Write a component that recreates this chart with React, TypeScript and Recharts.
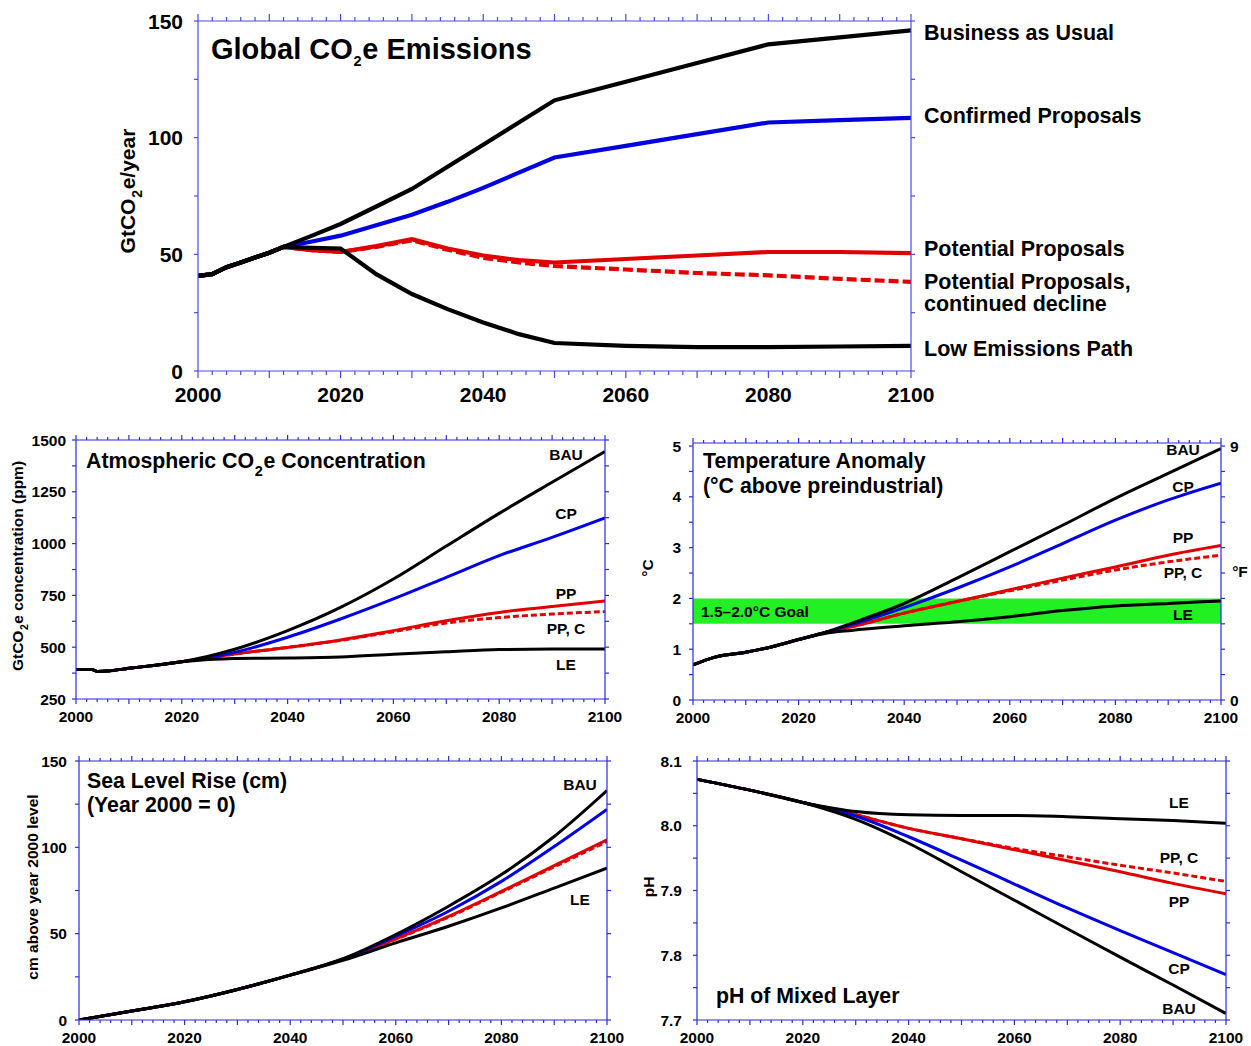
import React from 'react'
import { LineChart, Line, XAxis, YAxis, ReferenceArea } from 'recharts'

const FONT = '"Liberation Sans", Arial, Helvetica, sans-serif'
const AXIS_TOP = '#4a4ae4'
const AXIS = '#2b2be0'
const BLACK = '#000000'
const BLUE = '#0000e0'
const RED = '#e00000'
const GREEN = '#22f022'

const yearLabels = [2000, 2020, 2040, 2060, 2080, 2100]
const yearTicks = Array.from({ length: 51 }, (_, i) => 2000 + i * 2)

// — Global CO2e emissions (GtCO2e/yr)
const emisYears = [2000, 2002, 2004, 2006, 2008, 2010, 2012, 2016, 2020, 2025, 2030, 2035, 2040, 2045, 2050, 2060, 2070, 2080, 2090, 2100]
const emisBAU = [40.8, 41.5, 44.5, 46.5, 48.6, 50.7, 53.2, 58, 63, 70.5, 78, 87.5, 97, 106.5, 116, 124, 132, 140, 143, 146]
const emisCP = [40.8, 41.5, 44.5, 46.5, 48.6, 50.7, 53.2, 55.5, 58, 62.5, 67, 72.5, 78.5, 85, 91.5, 96.5, 101.5, 106.5, 107.5, 108.5]
const emisPP = [40.8, 41.5, 44.5, 46.5, 48.6, 50.7, 53.2, 51.8, 51, 53.5, 56.5, 52.5, 49.5, 47.5, 46.5, 48, 49.5, 51, 51, 50.5]
const emisPPC = [40.8, 41.5, 44.5, 46.5, 48.6, 50.7, 53.2, 51.8, 51, 53.2, 56, 52, 48.5, 46.5, 45, 43.5, 42, 41, 39.5, 38.2]
const emisLE = [40.8, 41.5, 44.5, 46.5, 48.6, 50.7, 53.2, 52.8, 52.5, 41.5, 33, 26.5, 20.8, 15.8, 12, 10.8, 10.2, 10.2, 10.5, 10.8]
const emisTicks = [0, 25, 50, 75, 100, 125, 150]
const emisLabels = [0, 50, 100, 150]

// — Atmospheric CO2e concentration (ppm)
const concYears = [2000, 2003, 2004, 2006, 2010, 2015, 2020, 2030, 2040, 2050, 2060, 2070, 2080, 2090, 2100]
const concBAU = [392, 392, 383, 385, 398, 413, 430, 490, 580, 692, 829, 988, 1146, 1296, 1444]
const concCP = [392, 392, 383, 385, 398, 413, 430, 475, 548, 636, 733, 837, 942, 1030, 1124]
const concPP = [392, 392, 383, 385, 398, 413, 430, 467, 499, 535, 580, 628, 668, 696, 723]
const concPPC = [392, 392, 383, 385, 398, 413, 430, 467, 499, 533, 575, 617, 643, 660, 672]
const concLE = [392, 392, 383, 385, 398, 413, 430, 446, 448, 453, 466, 478, 489, 491, 491]
const concTicks = [250, 375, 500, 625, 750, 875, 1000, 1125, 1250, 1375, 1500]
const concLabels = [250, 500, 750, 1000, 1250, 1500]

// — Temperature anomaly (°C above preindustrial)
const tempYears = [2000, 2004, 2010, 2015, 2020, 2025, 2030, 2040, 2050, 2060, 2070, 2080, 2090, 2100]
const tempBAU = [0.69, 0.84, 0.94, 1.05, 1.19, 1.33, 1.51, 1.9, 2.4, 2.92, 3.44, 3.97, 4.46, 4.95]
const tempCP = [0.69, 0.84, 0.94, 1.05, 1.19, 1.33, 1.48, 1.82, 2.2, 2.62, 3.08, 3.54, 3.94, 4.27]
const tempPP = [0.69, 0.84, 0.94, 1.05, 1.19, 1.33, 1.44, 1.71, 1.94, 2.17, 2.4, 2.62, 2.85, 3.04]
const tempPPC = [0.69, 0.84, 0.94, 1.05, 1.19, 1.33, 1.44, 1.71, 1.94, 2.15, 2.36, 2.56, 2.72, 2.85]
const tempLE = [0.69, 0.84, 0.94, 1.05, 1.19, 1.31, 1.37, 1.46, 1.54, 1.64, 1.76, 1.85, 1.9, 1.95]
const tempTicks = [0, 0.5, 1, 1.5, 2, 2.5, 3, 3.5, 4, 4.5, 5]
const tempLabels = [0, 1, 2, 3, 4, 5]
const fahrTicks = [0, 0.9, 1.8, 2.7, 3.6, 4.5, 5.4, 6.3, 7.2, 8.1, 9]
const fahrLabels = [0, 9]
const goalBand: [number, number] = [1.5, 2.0]

// — Sea level rise (cm, year 2000 = 0)
const seaYears = [2000, 2010, 2020, 2030, 2040, 2050, 2060, 2070, 2080, 2090, 2100]
const seaBAU = [0, 5.2, 10.6, 17.7, 26, 35.5, 49.5, 65.9, 84.2, 106.3, 132.9]
const seaCP = [0, 5.2, 10.6, 17.7, 26, 35.3, 48.5, 63, 80.3, 100.5, 122]
const seaPP = [0, 5.2, 10.6, 17.7, 26, 35.2, 47, 60, 74.5, 89.4, 104.4]
const seaPPC = [0, 5.2, 10.6, 17.7, 26, 35.2, 46.8, 59.6, 74, 88.7, 103.4]
const seaLE = [0, 5.2, 10.6, 17.7, 26, 34.5, 44.7, 54.3, 64.9, 76.4, 88]
const seaTicks = [0, 25, 50, 75, 100, 125, 150]
const seaLabels = [0, 50, 100, 150]

// — pH of mixed layer
const phYears = [2000, 2010, 2020, 2030, 2040, 2050, 2060, 2070, 2080, 2090, 2100]
const phBAU = [8.0717, 8.055, 8.036, 8.01, 7.973, 7.929, 7.885, 7.841, 7.797, 7.754, 7.71]
const phCP = [8.0717, 8.055, 8.036, 8.015, 7.983, 7.947, 7.91, 7.873, 7.838, 7.804, 7.77]
const phPP = [8.0717, 8.055, 8.036, 8.017, 7.996, 7.98, 7.963, 7.946, 7.929, 7.911, 7.895]
const phPPC = [8.0717, 8.055, 8.036, 8.017, 7.996, 7.98, 7.965, 7.952, 7.939, 7.927, 7.914]
const phLE = [8.0717, 8.055, 8.036, 8.022, 8.017, 8.016, 8.016, 8.014, 8.011, 8.008, 8.004]
const phTicks = [7.7, 7.75, 7.8, 7.85, 7.9, 7.95, 8.0, 8.05, 8.1]
const phLabels = [7.7, 7.8, 7.9, 8.0, 8.1]

type Row = Record<string, number | null>
function toRows(years: number[], series: Record<string, number[]>): Row[] {
  return years.map((year, i) => {
    const row: Row = { year }
    for (const k of Object.keys(series)) row[k] = series[k][i]
    return row
  })
}

const emisRows = toRows(emisYears, { bau: emisBAU, cp: emisCP, pp: emisPP, ppc: emisPPC, le: emisLE })
const concRows = toRows(concYears, { bau: concBAU, cp: concCP, pp: concPP, ppc: concPPC, le: concLE })
const tempRows = toRows(tempYears, { bau: tempBAU, cp: tempCP, pp: tempPP, ppc: tempPPC, le: tempLE })
const seaRows = toRows(seaYears, { bau: seaBAU, cp: seaCP, pp: seaPP, ppc: seaPPC, le: seaLE })
const phRows = toRows(phYears, { bau: phBAU, cp: phCP, pp: phPP, ppc: phPPC, le: phLE })

type LineCfg = { key: string; color: string; dash?: string }

const lowerLines: LineCfg[] = [
  { key: 'pp', color: RED },
  { key: 'ppc', color: RED, dash: '6 3' },
  { key: 'cp', color: BLUE },
  { key: 'bau', color: BLACK },
  { key: 'le', color: BLACK },
]
const topLines: LineCfg[] = [
  { key: 'pp', color: RED },
  { key: 'ppc', color: RED, dash: '10 4' },
  { key: 'cp', color: BLUE },
  { key: 'bau', color: BLACK },
  { key: 'le', color: BLACK },
]

interface PanelProps {
  x0: number; x1: number; y0: number; y1: number
  pad: [number, number, number, number]
  rows: Row[]
  yDomain: [number, number]
  yTicks: number[]
  yLabels: number[]
  yFmt?: (v: number) => string
  lines: LineCfg[]
  stroke: number
  font: number
  yGap: number
  xDy: number
  tx: number; txMajor: number; ty: number
  curve: 'linear' | 'monotone'
  axisColor: string
  right?: { domain: [number, number]; ticks: number[]; labels: number[] }
  band?: [number, number]
}

const has = (list: number[], v: number) => list.some(l => Math.abs(l - v) < 1e-6)

function Panel(p: PanelProps) {
  const [pt, pr, pb, pl] = p.pad
  const w = p.x1 - p.x0 + pl + pr
  const h = p.y1 - p.y0 + pt + pb
  const txt = { fontFamily: FONT, fontWeight: 700, fontSize: p.font, fill: '#000' }
  const fmt = p.yFmt ?? ((v: number) => String(v))
  const axisLine = { stroke: p.axisColor, strokeWidth: 1.2 }

  const bottomTick = (t: any) => {
    const v = t.payload.value
    const len = v % 10 === 0 ? p.txMajor : p.tx
    return (
      <g>
        <line x1={t.x} x2={t.x} y1={t.y} y2={t.y + len} stroke={p.axisColor} strokeWidth={1.2} />
        {has(yearLabels, v) && <text x={t.x} y={t.y + p.xDy} dy="0.36em" textAnchor="middle" {...txt}>{v}</text>}
      </g>
    )
  }
  const topTick = (t: any) => {
    const v = t.payload.value
    const len = v % 10 === 0 ? p.txMajor : p.tx
    return <line x1={t.x} x2={t.x} y1={t.y} y2={t.y - len} stroke={p.axisColor} strokeWidth={1.2} />
  }
  const leftTick = (t: any) => {
    const v = t.payload.value
    return (
      <g>
        <line x1={t.x} x2={t.x - p.ty} y1={t.y} y2={t.y} stroke={p.axisColor} strokeWidth={1.2} />
        {has(p.yLabels, v) && <text x={t.x - p.yGap} y={t.y} dy="0.36em" textAnchor="end" {...txt}>{fmt(v)}</text>}
      </g>
    )
  }
  const rightLabels = p.right?.labels ?? []
  const rightTick = (t: any) => {
    const v = t.payload.value
    return (
      <g>
        <line x1={t.x} x2={t.x + p.ty} y1={t.y} y2={t.y} stroke={p.axisColor} strokeWidth={1.2} />
        {has(rightLabels, v) && <text x={t.x + 9} y={t.y} dy="0.36em" textAnchor="start" {...txt}>{v}</text>}
      </g>
    )
  }

  return (
    <div style={{ position: 'absolute', left: p.x0 - pl, top: p.y0 - pt }}>
      <LineChart width={w} height={h} data={p.rows} margin={{ top: 0, right: 0, bottom: 0, left: 0 }}>
        <XAxis xAxisId="b" dataKey="year" type="number" domain={[2000, 2100]} allowDataOverflow
          ticks={yearTicks} interval={0} height={pb} tickSize={0} tickMargin={0} tickLine={false}
          axisLine={axisLine} tick={bottomTick} />
        <XAxis xAxisId="t" orientation="top" dataKey="year" type="number" domain={[2000, 2100]} allowDataOverflow
          ticks={yearTicks} interval={0} height={pt} tickSize={0} tickMargin={0} tickLine={false}
          axisLine={axisLine} tick={topTick} />
        <YAxis yAxisId="l" type="number" domain={p.yDomain} allowDataOverflow ticks={p.yTicks} interval={0}
          width={pl} tickSize={0} tickMargin={0} tickLine={false} axisLine={axisLine} tick={leftTick} />
        <YAxis yAxisId="r" orientation="right" type="number" domain={p.right ? p.right.domain : p.yDomain}
          allowDataOverflow ticks={p.right ? p.right.ticks : p.yTicks} interval={0} width={pr}
          tickSize={0} tickMargin={0} tickLine={false} axisLine={axisLine} tick={rightTick} />
        {p.band && (
          <ReferenceArea xAxisId="b" yAxisId="l" x1={2000} x2={2100} y1={p.band[0]} y2={p.band[1]}
            fill={GREEN} fillOpacity={1} stroke="none" />
        )}
        {p.lines.map(l => (
          <Line key={l.key} xAxisId="b" yAxisId="l" type={p.curve} dataKey={l.key} stroke={l.color}
            strokeWidth={p.stroke} strokeDasharray={l.dash} dot={false} activeDot={false}
            isAnimationActive={false} />
        ))}
      </LineChart>
    </div>
  )
}

function Txt({ x, y, size, anchor = 'start', rotate = false, children }: {
  x: number; y: number; size: number; anchor?: 'start' | 'middle' | 'end'; rotate?: boolean; children: React.ReactNode
}) {
  const tx = anchor === 'middle' ? '-50%' : anchor === 'end' ? '-100%' : '0'
  return (
    <div style={{
      position: 'absolute', left: x, top: y, fontSize: size, fontWeight: 700, lineHeight: 1,
      whiteSpace: 'nowrap', color: '#000',
      transform: rotate ? 'translate(-50%,-50%) rotate(-90deg)' : `translate(${tx},-50%)`,
    }}>{children}</div>
  )
}

const Sub = ({ size = 0.68, drop = 0.5 }: { size?: number; drop?: number }) => (
  <span style={{ fontSize: `${size}em`, position: 'relative', top: `${drop}em`, margin: '0 0.05em' }}>2</span>
)

export default function App() {
  const lower = {
    pad: [12, 35, 30, 60] as [number, number, number, number],
    lines: lowerLines, stroke: 3, font: 15.5, xDy: 17,
    tx: 3, txMajor: 5, ty: 4, curve: 'monotone' as const, axisColor: AXIS,
  }
  const lab = 15.5
  const title = 21.3
  return (
    <div style={{ position: 'absolute', left: 0, top: 0, width: 1251, height: 1046, background: '#fff', overflow: 'hidden', fontFamily: FONT }}>
      {/* Global emissions */}
      <Panel x0={198} x1={911} y0={21} y1={371} pad={[12, 40, 40, 80]} rows={emisRows}
        yDomain={[0, 150]} yTicks={emisTicks} yLabels={emisLabels} lines={topLines} stroke={4.2}
        font={21} yGap={15} xDy={23} tx={4} txMajor={7} ty={4} curve="linear" axisColor={AXIS_TOP} />
      <Txt x={211} y={49} size={29}>Global CO<Sub size={0.5} drop={0.5} />e Emissions</Txt>
      <Txt x={127} y={191} size={21} rotate>GtCO<Sub size={0.67} drop={0.48} />e/year</Txt>
      <Txt x={924} y={34} size={21.5}>Business as Usual</Txt>
      <Txt x={924} y={117} size={21.5}>Confirmed Proposals</Txt>
      <Txt x={924} y={250} size={21.5}>Potential Proposals</Txt>
      <Txt x={924} y={283} size={21.5}>Potential Proposals,</Txt>
      <Txt x={924} y={305} size={21.5}>continued decline</Txt>
      <Txt x={924} y={350} size={21.5}>Low Emissions Path</Txt>

      {/* Atmospheric concentration */}
      <Panel x0={76} x1={605} y0={440} y1={699} rows={concRows} yDomain={[250, 1500]}
        yTicks={concTicks} yLabels={concLabels} yGap={10} {...lower} />
      <Txt x={86} y={462} size={title}>Atmospheric CO<Sub size={0.68} drop={0.52} />e Concentration</Txt>
      <Txt x={18} y={566} size={lab} rotate>GtCO<Sub size={0.68} drop={0.5} />e concentration (ppm)</Txt>
      <Txt x={566} y={455} size={lab} anchor="middle">BAU</Txt>
      <Txt x={566} y={514} size={lab} anchor="middle">CP</Txt>
      <Txt x={566} y={594} size={lab} anchor="middle">PP</Txt>
      <Txt x={566} y={629} size={lab} anchor="middle">PP, C</Txt>
      <Txt x={566} y={665} size={lab} anchor="middle">LE</Txt>

      {/* Temperature */}
      <Panel x0={693} x1={1221} y0={443} y1={700} rows={tempRows} yDomain={[0, 5.06]}
        yTicks={tempTicks} yLabels={tempLabels} yGap={12}
        right={{ domain: [0, 5.06 * 1.8], ticks: fahrTicks, labels: fahrLabels }} band={goalBand} {...lower} />
      <Txt x={703} y={462} size={title}>Temperature Anomaly</Txt>
      <Txt x={703} y={487} size={title}>(°C above preindustrial)</Txt>
      <Txt x={701} y={612} size={lab}>1.5–2.0°C Goal</Txt>
      <Txt x={648} y={568} size={lab} rotate>°C</Txt>
      <Txt x={1240} y={572} size={lab} anchor="middle">°F</Txt>
      <Txt x={1183} y={450} size={lab} anchor="middle">BAU</Txt>
      <Txt x={1183} y={487} size={lab} anchor="middle">CP</Txt>
      <Txt x={1183} y={538} size={lab} anchor="middle">PP</Txt>
      <Txt x={1183} y={573} size={lab} anchor="middle">PP, C</Txt>
      <Txt x={1183} y={615} size={lab} anchor="middle">LE</Txt>

      {/* Sea level */}
      <Panel x0={79} x1={607} y0={761} y1={1020} rows={seaRows} yDomain={[0, 150]}
        yTicks={seaTicks} yLabels={seaLabels} yGap={12} {...lower} />
      <Txt x={87} y={782} size={title}>Sea Level Rise (cm)</Txt>
      <Txt x={87} y={806} size={title}>(Year 2000 = 0)</Txt>
      <Txt x={33} y={887} size={lab} rotate>cm above year 2000 level</Txt>
      <Txt x={580} y={785} size={lab} anchor="middle">BAU</Txt>
      <Txt x={580} y={900} size={lab} anchor="middle">LE</Txt>

      {/* pH */}
      <Panel x0={697} x1={1226} y0={761} y1={1020} rows={phRows} yDomain={[7.7, 8.1]}
        yTicks={phTicks} yLabels={phLabels} yFmt={v => v.toFixed(1)} yGap={15} {...lower} />
      <Txt x={716} y={997} size={title}>pH of Mixed Layer</Txt>
      <Txt x={649} y={887} size={lab} rotate>pH</Txt>
      <Txt x={1179} y={803} size={lab} anchor="middle">LE</Txt>
      <Txt x={1179} y={858} size={lab} anchor="middle">PP, C</Txt>
      <Txt x={1179} y={902} size={lab} anchor="middle">PP</Txt>
      <Txt x={1179} y={969} size={lab} anchor="middle">CP</Txt>
      <Txt x={1179} y={1009} size={lab} anchor="middle">BAU</Txt>
    </div>
  )
}
